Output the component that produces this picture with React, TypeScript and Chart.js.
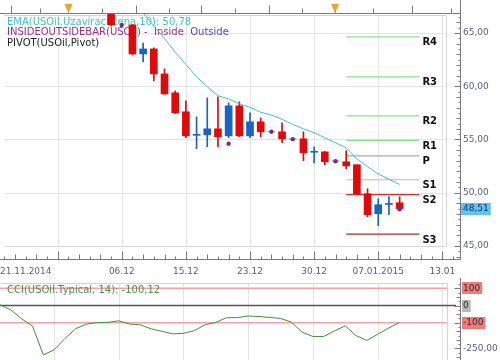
import React, { useEffect, useRef } from 'react';
import { Chart, registerables } from 'chart.js';

Chart.register(...registerables);

// ---------------- Data ----------------
// bar index 0 = first candle visible at the top left; one bar per trading day
const barIdx = [0, 1, 2, 3, 4, 5, 6, 7, 8, 9, 10, 11, 12, 13, 14, 15, 16, 17, 18, 19, 20, 21, 22, 23, 24, 25, 26, 27];
const opens = [67.4, 67.1, 65.75, 63.03, 63.5, 61.16, 59.38, 57.6, 55.39, 55.44, 56.0, 55.34, 58.16, 55.34, 56.66, 55.72, 55.72, 55.06, 55.06, 53.8, 53.84, 52.98, 52.91, 52.63, 49.91, 48.03, 48.9, 49.06];
const highs = [67.8, 67.6, 65.8, 64.06, 63.6, 61.63, 59.56, 58.63, 57.13, 58.91, 59.0, 58.44, 58.53, 57.5, 57.03, 55.77, 56.56, 55.11, 55.72, 54.31, 53.88, 53.03, 53.94, 52.63, 50.38, 49.44, 49.63, 49.63];
const lows = [65.66, 66.9, 62.95, 62.28, 60.5, 59.23, 57.45, 55.16, 54.13, 54.31, 54.31, 55.16, 55.25, 55.16, 55.25, 55.67, 54.69, 55.01, 53.0, 52.81, 52.63, 52.93, 52.25, 49.81, 47.75, 46.91, 47.94, 48.5];
const closes = [65.75, 67.3, 63.03, 63.5, 61.16, 59.28, 57.5, 55.34, 55.48, 56.0, 55.25, 58.16, 55.34, 56.66, 55.72, 55.72, 55.06, 55.06, 53.75, 53.89, 52.91, 52.98, 52.53, 49.91, 47.94, 48.88, 49.0, 48.51];

// EMA(10) of close
const emaIdx = [2, 3, 4, 5, 6, 7, 8, 9, 10, 11, 12, 13, 14, 15, 16, 17, 18, 19, 20, 21, 22, 23, 24, 25, 26, 27];
const emaValues = [67.8, 66.9, 65.66, 64.47, 63.2, 62.05, 60.88, 59.96, 59.1, 58.81, 58.35, 58.02, 57.55, 57.31, 56.89, 56.42, 56.0, 55.63, 55.16, 54.69, 54.22, 53.19, 52.44, 51.78, 51.27, 50.78];

// Inside-bar markers
const insideIdx = [1, 11, 15, 17, 21, 27];
const insideValues = [65.75, 54.6, 55.72, 55.03, 52.95, 48.45];

// Pivot levels
const pivotNames = ['R4', 'R3', 'R2', 'R1', 'P', 'S1', 'S2', 'S3'];
const pivotValues = [64.63, 60.88, 57.22, 54.92, 53.47, 51.22, 49.82, 46.12];
const pivotFrom = 22;
const pivotTo = 28.85;

// CCI(14)
const cciIdx = [-10, -9, -8, -7, -6, -5, -4, -3, -2, -1, 0, 1, 2, 3, 4, 5, 6, 7, 8, 9, 10, 11, 12, 13, 14, 15, 16, 17, 18, 19, 20, 21, 22, 23, 24, 25, 26, 27];
const cciValues = [4, -26, -78, -120, -287, -258, -192, -135, -108, -99, -98, -89, -108, -112, -136, -150, -165, -162, -146, -112, -98, -71, -70, -61, -64, -69, -75, -96, -155, -180, -180, -148, -118, -175, -203, -168, -132, -100.12];
const cciLevels = [100, 0, -100];
const cciTicks = [100, 0, -100, -250];
const cciTickLabels = ['100', '0', '-100', '-250,00'];

// Axes
const xTickIdx = [-11, -5, 1, 7, 13, 19, 25, 31];
const xTickLabels = ['21.11.2014', '28.11', '06.12', '15.12', '23.12', '30.12', '07.01.2015', '13.01'];
const yTicks = [45, 50, 55, 60, 65];
const topAxisIdx = [-9.37, -6.68, -3.99, -0.83, 2.32, 5.38, 8.44, 11.6, 14.75, 17.9, 20.96, 24.49, 28.2, 31.8];
const eventIdx = [-3.99, 20.96];

// ---------------- Styles ----------------
const X_MIN = -10.02;
const X_MAX = 32.65;
const RED = '#e00a0a';
const BLUE = '#1764c4';
const PURPLE = '#6e2c8c';
const EMA_COLOR = '#45c0c0';
const AXIS_TEXT = '#5c5c82';
const GRID = '#e3e3e3';
const FRAME = '#d4d4d4';
const AXIS = '#7a7a7a';
const FONT = '"DejaVu Sans", Verdana, sans-serif';
const pivotColors = ['#86e486', '#86e486', '#86e486', '#86e486', '#a9a9a9', '#f0a4a4', '#c83030', '#b02a2a'];
const cciLevelColors = ['#f3a3a3', '#555555', '#f3a3a3'];
const cciLabelBg = ['#f07a7a', '#b7b7b7', '#f07a7a', ''];

const fmt = (v: number) => v.toFixed(2).replace('.', ',');
const crisp = (v: number) => Math.round(v) + 0.5;

const mainDecor = {
  id: 'mainDecor',
  beforeDatasetsDraw(chart: any) {
    const { ctx, chartArea: a, scales } = chart;
    const x = scales.x, y = scales.y;
    const fr = a.right - 14;
    const fb = a.bottom - 13;
    ctx.save();
    ctx.lineWidth = 1;
    ctx.strokeStyle = GRID;
    yTicks.forEach((v) => {
      const py = crisp(y.getPixelForValue(v));
      ctx.beginPath(); ctx.moveTo(a.left, py); ctx.lineTo(fr, py); ctx.stroke();
    });
    xTickIdx.forEach((v) => {
      const px = x.getPixelForValue(v);
      if (px < a.left || px > fr) return;
      ctx.beginPath(); ctx.moveTo(crisp(px), a.top + 1); ctx.lineTo(crisp(px), fb); ctx.stroke();
    });
    ctx.strokeStyle = FRAME;
    ctx.beginPath();
    ctx.moveTo(a.left, crisp(a.top + 1)); ctx.lineTo(crisp(fr), crisp(a.top + 1));
    ctx.lineTo(crisp(fr), crisp(fb)); ctx.lineTo(a.left, crisp(fb));
    ctx.stroke();

    // legend
    ctx.font = `10px ${FONT}`;
    ctx.textBaseline = 'middle';
    ctx.textAlign = 'left';
    ctx.fillStyle = EMA_COLOR;
    ctx.fillText(`EMA(USOil.Uzavírací cena,10): ${fmt(emaValues[emaValues.length - 1])}`, 7, 22);
    let lx = 7;
    const segs: [string, string][] = [
      ['INSIDEOUTSIDEBAR(USOil) -  ', '#9a2f92'],
      ['Inside  ', '#9a2f92'],
      ['Outside', '#4b44d8'],
    ];
    segs.forEach(([t, c]) => {
      ctx.fillStyle = c;
      ctx.fillText(t, lx, 32.5);
      lx += ctx.measureText(t).width;
    });
    ctx.fillStyle = '#222';
    ctx.fillText('PIVOT(USOil,Pivot)', 7, 43);
    ctx.restore();
  },
  afterDraw(chart: any) {
    const { ctx, chartArea: a, scales } = chart;
    const x = scales.x, y = scales.y;
    ctx.save();
    // pivot labels
    ctx.font = `bold 10px ${FONT}`;
    ctx.textBaseline = 'top';
    ctx.textAlign = 'left';
    ctx.fillStyle = '#111';
    pivotNames.forEach((n, k) => {
      ctx.fillText(n, x.getPixelForValue(pivotTo) + 3, y.getPixelForValue(pivotValues[k]) + 1);
    });

    ctx.strokeStyle = AXIS;
    ctx.lineWidth = 1;
    // top axis
    const ty = crisp(a.top - 1);
    ctx.beginPath(); ctx.moveTo(0, ty); ctx.lineTo(a.right, ty); ctx.stroke();
    topAxisIdx.forEach((v, k) => {
      const px = crisp(x.getPixelForValue(v));
      const len = k % 2 === 0 ? 8 : 5;
      ctx.beginPath(); ctx.moveTo(px, ty); ctx.lineTo(px, ty - len); ctx.stroke();
    });
    // right axis
    const rx = crisp(a.right);
    ctx.beginPath(); ctx.moveTo(rx, 0); ctx.lineTo(rx, a.bottom + 1); ctx.stroke();
    for (let v = Math.ceil(y.min * 2) / 2; v <= y.max; v += 0.5) {
      const py = crisp(y.getPixelForValue(v));
      const len = v % 5 === 0 ? 6 : v % 1 === 0 ? 4 : 2;
      ctx.beginPath(); ctx.moveTo(rx, py); ctx.lineTo(rx - len, py); ctx.stroke();
    }
    // bottom axis
    const by = crisp(a.bottom);
    ctx.beginPath(); ctx.moveTo(0, by); ctx.lineTo(a.right, by); ctx.stroke();
    for (let i = Math.ceil(x.min); i <= x.max; i++) {
      const off = ((i - 1) % 6 + 6) % 6;
      const len = off === 0 ? 8 : off % 2 === 0 ? 5 : 3;
      const px = crisp(x.getPixelForValue(i));
      ctx.beginPath(); ctx.moveTo(px, by); ctx.lineTo(px, by - len); ctx.stroke();
    }
    // event markers
    ctx.fillStyle = '#f3a12a';
    eventIdx.forEach((v) => {
      const px = x.getPixelForValue(v);
      ctx.beginPath(); ctx.moveTo(px - 4, 4); ctx.lineTo(px + 4, 4); ctx.lineTo(px, 13); ctx.closePath(); ctx.fill();
    });

    // y labels
    ctx.font = `9px ${FONT}`;
    ctx.textBaseline = 'middle';
    ctx.fillStyle = AXIS_TEXT;
    yTicks.forEach((v) => ctx.fillText(fmt(v), a.right + 3, y.getPixelForValue(v)));
    // x labels
    let lastRight = -Infinity;
    xTickIdx.forEach((v, k) => {
      const t = xTickLabels[k];
      const w = ctx.measureText(t).width;
      let left = x.getPixelForValue(v) - w / 2;
      if (left < 0) left = 0;
      if (left < lastRight + 4) return;
      ctx.fillText(t, left, a.bottom + 13);
      lastRight = left + w;
    });
    // last price box
    const last = closes[closes.length - 1];
    const py = y.getPixelForValue(last);
    const t = fmt(last);
    const w = ctx.measureText(t).width;
    ctx.fillStyle = '#5ec3ef';
    ctx.fillRect(a.right + 1, Math.round(py - 6), w + 4, 12);
    ctx.fillStyle = '#15306e';
    ctx.fillText(t, a.right + 3, py);
    ctx.restore();
  },
};

const cciDecor = {
  id: 'cciDecor',
  beforeDatasetsDraw(chart: any) {
    const { ctx, chartArea: a, scales } = chart;
    const x = scales.x, y = scales.y;
    const fr = a.right - 13;
    ctx.save();
    ctx.lineWidth = 1;
    ctx.strokeStyle = GRID;
    xTickIdx.forEach((v) => {
      const px = x.getPixelForValue(v);
      if (px < a.left || px > fr) return;
      ctx.beginPath(); ctx.moveTo(crisp(px), a.top); ctx.lineTo(crisp(px), a.bottom); ctx.stroke();
    });
    ctx.strokeStyle = FRAME;
    ctx.beginPath();
    ctx.moveTo(a.left, crisp(a.top)); ctx.lineTo(crisp(fr), crisp(a.top)); ctx.lineTo(crisp(fr), a.bottom);
    ctx.stroke();
    cciLevels.forEach((v, k) => {
      const py = y.getPixelForValue(v);
      ctx.strokeStyle = cciLevelColors[k];
      ctx.lineWidth = 1.5;
      ctx.beginPath(); ctx.moveTo(a.left, py); ctx.lineTo(v === 0 ? a.right - 4 : fr, py); ctx.stroke();
    });
    ctx.font = `10px ${FONT}`;
    ctx.textBaseline = 'middle';
    ctx.fillStyle = '#4d8f4d';
    ctx.fillText(`CCI(USOil.Typical, 14): ${fmt(cciValues[cciValues.length - 1])}`, 7, a.top + 7);
    ctx.restore();
  },
  afterDraw(chart: any) {
    const { ctx, chartArea: a, scales } = chart;
    const y = scales.y;
    ctx.save();
    ctx.strokeStyle = AXIS;
    ctx.lineWidth = 1;
    const rx = crisp(a.right);
    ctx.beginPath(); ctx.moveTo(rx, 0); ctx.lineTo(rx, chart.height); ctx.stroke();
    for (let v = Math.ceil(y.min / 25) * 25; v <= y.max; v += 25) {
      const py = crisp(y.getPixelForValue(v));
      const len = cciTicks.includes(v) ? 6 : v % 50 === 0 ? 4 : 2;
      ctx.beginPath(); ctx.moveTo(rx, py); ctx.lineTo(rx - len, py); ctx.stroke();
    }
    ctx.font = `9px ${FONT}`;
    ctx.textBaseline = 'middle';
    cciTicks.forEach((v, k) => {
      const py = y.getPixelForValue(v);
      const t = cciTickLabels[k];
      const w = ctx.measureText(t).width;
      if (cciLabelBg[k]) {
        ctx.fillStyle = cciLabelBg[k];
        ctx.fillRect(a.right + 2, Math.round(py - 6), w + 3, 12);
        ctx.fillStyle = '#2a2a3a';
      } else {
        ctx.fillStyle = AXIS_TEXT;
      }
      ctx.fillText(t, a.right + 3, py);
    });
    ctx.restore();
  },
};

export default function App() {
  const mainRef = useRef<HTMLCanvasElement>(null);
  const cciRef = useRef<HTMLCanvasElement>(null);

  useEffect(() => {
    document.body.style.margin = '0';
    const colors = barIdx.map((_, i) => (closes[i] >= opens[i] ? BLUE : RED));

    const datasets: any[] = [
      {
        type: 'line',
        data: insideIdx.map((v, k) => ({ x: v, y: insideValues[k] })),
        showLine: false,
        pointRadius: 2.2,
        pointBackgroundColor: PURPLE,
        pointBorderWidth: 0,
        clip: 0,
        order: 0,
      },
      {
        type: 'line',
        data: emaIdx.map((v, k) => ({ x: v, y: emaValues[k] })),
        borderColor: EMA_COLOR,
        borderWidth: 1,
        pointRadius: 0,
        tension: 0,
        clip: 0,
        order: 1,
      },
      {
        type: 'bar',
        data: barIdx.map((v, i) => ({ x: v, y: [opens[i], closes[i]] })),
        backgroundColor: colors,
        barThickness: 7,
        grouped: false,
        clip: 0,
        order: 2,
      },
      {
        type: 'bar',
        data: barIdx.map((v, i) => ({ x: v, y: [lows[i], highs[i]] })),
        backgroundColor: colors,
        barThickness: 1,
        grouped: false,
        clip: 0,
        order: 3,
      },
      ...pivotNames.map((n, k) => ({
        type: 'line',
        label: n,
        data: [{ x: pivotFrom, y: pivotValues[k] }, { x: pivotTo, y: pivotValues[k] }],
        borderColor: pivotColors[k],
        borderWidth: 1.2,
        pointRadius: 0,
        clip: 0,
        order: 4,
      })),
    ];

    const main = new Chart(mainRef.current as HTMLCanvasElement, {
      type: 'bar',
      data: { datasets },
      options: {
        animation: false,
        responsive: false,
        devicePixelRatio: 1,
        layout: { padding: { left: 0, right: 40, top: 14, bottom: 19 } },
        scales: {
          x: { type: 'linear', min: X_MIN, max: X_MAX, offset: false, display: false },
          y: { type: 'linear', min: 43.78, max: 66.78, display: false },
        },
        plugins: { legend: { display: false }, tooltip: { enabled: false } },
      } as any,
      plugins: [mainDecor],
    });

    const cci = new Chart(cciRef.current as HTMLCanvasElement, {
      type: 'line',
      data: {
        datasets: [
          {
            data: cciIdx.map((v, k) => ({ x: v, y: cciValues[k] })),
            borderColor: '#3f8f3f',
            borderWidth: 1,
            pointRadius: 0,
            tension: 0,
            clip: 0,
          },
        ],
      },
      options: {
        animation: false,
        responsive: false,
        devicePixelRatio: 1,
        layout: { padding: { left: 0, right: 40, top: 5, bottom: 0 } },
        scales: {
          x: { type: 'linear', min: X_MIN, max: X_MAX, offset: false, display: false },
          y: { type: 'linear', min: -317, max: 131, display: false },
        },
        plugins: { legend: { display: false }, tooltip: { enabled: false } },
      } as any,
      plugins: [cciDecor],
    });

    return () => {
      main.destroy();
      cci.destroy();
    };
  }, []);

  return (
    <div style={{ position: 'relative', width: 500, height: 360, background: '#fff' }}>
      <canvas ref={mainRef} width={500} height={278} style={{ position: 'absolute', left: 0, top: 0, width: 500, height: 278 }} />
      <canvas ref={cciRef} width={500} height={82} style={{ position: 'absolute', left: 0, top: 278, width: 500, height: 82 }} />
    </div>
  );
}
